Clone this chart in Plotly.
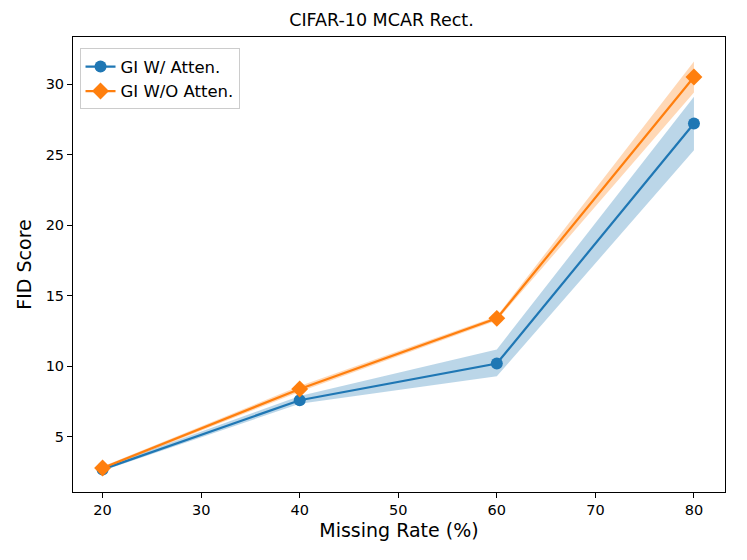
import plotly.graph_objects as go

# missing rate (%)
rates = [20, 40, 60, 80]

# GI with attention
att_mean = [2.7, 7.6, 10.2, 27.2]
att_low = [2.6, 7.35, 9.3, 25.3]
att_high = [2.85, 7.9, 11.2, 29.1]

# GI without attention
noatt_mean = [2.8, 8.4, 13.4, 30.5]
noatt_low = [2.7, 8.2, 13.25, 29.4]
noatt_high = [2.9, 8.6, 13.55, 31.6]

xticks = [20, 30, 40, 50, 60, 70, 80]
yticks = [5, 10, 15, 20, 25, 30]

blue = '#1f77b4'
orange = '#ff7f0e'

fig = go.Figure()

# shaded bands first
fig.add_trace(go.Scatter(x=rates + rates[::-1], y=att_high + att_low[::-1],
                         fill='toself', fillcolor='rgba(31,119,180,0.3)',
                         line=dict(width=0), mode='lines',
                         showlegend=False, hoverinfo='skip'))
fig.add_trace(go.Scatter(x=rates + rates[::-1], y=noatt_high + noatt_low[::-1],
                         fill='toself', fillcolor='rgba(255,127,14,0.3)',
                         line=dict(width=0), mode='lines',
                         showlegend=False, hoverinfo='skip'))

fig.add_trace(go.Scatter(x=rates, y=att_mean, name='GI W/ Atten.',
                         mode='lines+markers',
                         line=dict(color=blue, width=2.2),
                         marker=dict(symbol='circle', size=12, color=blue)))
fig.add_trace(go.Scatter(x=rates, y=noatt_mean, name='GI W/O Atten.',
                         mode='lines+markers',
                         line=dict(color=orange, width=2.2),
                         marker=dict(symbol='diamond', size=13, color=orange)))

axis_common = dict(showline=True, linecolor='black', linewidth=1, mirror=True,
                   ticks='outside', ticklen=5, tickcolor='black',
                   showgrid=False, zeroline=False,
                   tickfont=dict(size=14.5, color='black'))

fig.update_xaxes(range=[17, 83.15], tickvals=xticks,
                 title=dict(text='Missing Rate (%)', font=dict(size=19, color='black'), standoff=6),
                 **axis_common)
fig.update_yaxes(range=[1.1, 33.33], tickvals=yticks,
                 title=dict(text='FID Score', font=dict(size=19, color='black'), standoff=8),
                 **axis_common)

# page body adds 8px offset, so margins are shifted
fig.update_layout(
    width=747, height=560,
    margin=dict(l=65, r=30, t=29, b=76),
    plot_bgcolor='white', paper_bgcolor='white',
    font=dict(family='DejaVu Sans', color='black'),
    title=dict(text='CIFAR-10 MCAR Rect.', x=0.5, xanchor='center', y=0.978, yanchor='middle',
               font=dict(size=17.5, color='black')),
    legend=dict(x=0.01, y=0.975, xanchor='left', yanchor='top',
                bgcolor='rgba(255,255,255,0.8)', bordercolor='#cccccc', borderwidth=1,
                font=dict(size=16.5, color='black'), tracegroupgap=2),
)

fig.write_html('out.html')
